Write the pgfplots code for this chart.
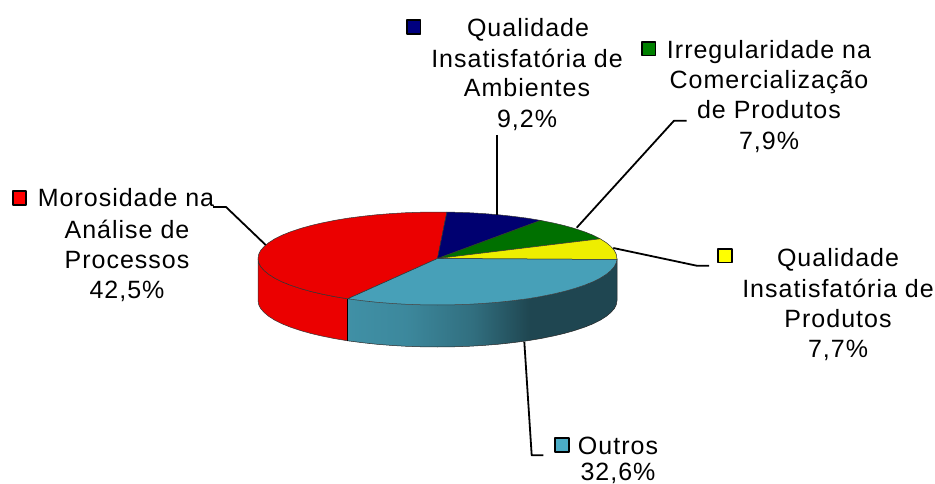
\documentclass[border=0pt]{standalone}
\usepackage{pgfplots}
\pgfplotsset{compat=1.18}
\usepackage{fontspec}
\setmainfont[LetterSpace=4]{Liberation Sans}
\definecolor{tRed}{HTML}{EB0000}
\definecolor{tNavy}{HTML}{000070}
\definecolor{tGreen}{HTML}{007000}
\definecolor{tYellow}{HTML}{EEEE00}
\definecolor{tTeal}{HTML}{47A0B8}
\definecolor{kRed}{HTML}{FF0000}
\definecolor{kNavy}{HTML}{000080}
\definecolor{kGreen}{HTML}{008000}
\definecolor{kYellow}{HTML}{FFFF00}
\definecolor{kTeal}{HTML}{4BACC6}
\pgfdeclarehorizontalshading{tealside}{100bp}{
 color(0bp)=(tTeal!90!black);
 color(25bp)=(tTeal!90!black);
 color(35.8bp)=(tTeal!85!black);
 color(48.3bp)=(tTeal!69!black);
 color(58.8bp)=(tTeal!44!black);
 color(100bp)=(tTeal!44!black)}
\newcommand{\lab}[3]{\node[anchor=base,inner sep=0pt,font=\fontsize{25pt}{25pt}\selectfont,text=black] at (axis cs:#1,#2) {#3};}
\begin{document}
\begin{tikzpicture}
\useasboundingbox (0,0) rectangle (935pt,484pt);
\begin{axis}[hide axis,scale only axis,width=935pt,height=484pt,at={(0,0)},anchor=south west,
  xmin=0,xmax=935,ymin=0,ymax=484,y dir=reverse,clip=false,
  every axis plot/.append style={line join=round}]
% side walls
\addplot[draw=black!80,line width=0.5pt,fill=tRed] coordinates {
(258,258.5)(258.7,262.6)(260.7,266.6)(264.1,270.5)(268.8,274.4)(274.8,278.2)(282,281.8)(290.5,285.2)(300,288.4)(310.6,291.4)(322.1,294.1)(334.5,296.6)(347.7,298.8)
(347.7,340.8)(334.5,338.6)(322.1,336.1)(310.6,333.4)(300,330.4)(290.5,327.2)(282,323.8)(274.8,320.2)(268.8,316.4)(264.1,312.5)(260.7,308.6)(258.7,304.6)(258,300.5)(258,258.5)};
\addplot[draw=none,shading=tealside] coordinates {
(347.7,298.8)(361.6,300.6)(376.1,302.2)(391,303.4)(406.3,304.3)(421.8,304.8)(437.5,305)(453.2,304.8)(468.7,304.3)(484,303.4)(498.9,302.2)(513.4,300.6)(527.3,298.8)(540.5,296.6)(552.9,294.1)(564.4,291.4)(575,288.4)(584.5,285.2)(593,281.8)(600.2,278.2)(606.2,274.4)(610.9,270.5)(614.3,266.6)(616.3,262.6)(617,258.5)
(617,300.5)(616.3,304.6)(614.3,308.6)(610.9,312.5)(606.2,316.4)(600.2,320.2)(593,323.8)(584.5,327.2)(575,330.4)(564.4,333.4)(552.9,336.1)(540.5,338.6)(527.3,340.8)(513.4,342.6)(498.9,344.2)(484,345.4)(468.7,346.3)(453.2,346.8)(437.5,347)(421.8,346.8)(406.3,346.3)(391,345.4)(376.1,344.2)(361.6,342.6)(347.7,340.8)(347.7,298.8)};
\addplot[draw=black!85,line width=0.5pt] coordinates {
(617,258.5)(617,300.5)(616.3,304.6)(614.3,308.6)(610.9,312.5)(606.2,316.4)(600.2,320.2)(593,323.8)(584.5,327.2)(575,330.4)(564.4,333.4)(552.9,336.1)(540.5,338.6)(527.3,340.8)(513.4,342.6)(498.9,344.2)(484,345.4)(468.7,346.3)(453.2,346.8)(437.5,347)(421.8,346.8)(406.3,346.3)(391,345.4)(376.1,344.2)(361.6,342.6)(347.7,340.8)};
\addplot[draw=black,line width=1.5pt] coordinates {(347.7,299)(347.7,341)};
% top surface
\addplot[draw=black!80,line width=0.5pt,fill=tRed] coordinates {
(437.5,258.5)(446.9,212.1)(437.5,212)(421.8,212.2)(406.3,212.7)(391,213.6)(376.1,214.8)(361.6,216.4)(347.7,218.2)(334.5,220.4)(322.1,222.9)(310.6,225.6)(300,228.6)(290.5,231.8)(282,235.2)(274.8,238.8)(268.8,242.6)(264.1,246.5)(260.7,250.4)(258.7,254.4)(258,258.5)(258.7,262.6)(260.7,266.6)(264.1,270.5)(268.8,274.4)(274.8,278.2)(282,281.8)(290.5,285.2)(300,288.4)(310.6,291.4)(322.1,294.1)(334.5,296.6)(347.7,298.8)(437.5,258.5)};
\addplot[draw=black!80,line width=0.5pt,fill=tNavy] coordinates {
(437.5,258.5)(540.5,220.4)(527.3,218.2)(513.4,216.4)(498.9,214.8)(484,213.6)(468.7,212.7)(453.2,212.2)(446.9,212.1)(437.5,258.5)};
\addplot[draw=black!80,line width=0.5pt,fill=tGreen] coordinates {
(437.5,258.5)(600.2,238.8)(593,235.2)(584.5,231.8)(575,228.6)(564.4,225.6)(552.9,222.9)(540.5,220.4)(437.5,258.5)};
\addplot[draw=black!80,line width=0.5pt,fill=tYellow] coordinates {
(437.5,258.5)(617,259.5)(616.3,254.4)(614.3,250.4)(610.9,246.5)(606.2,242.6)(600.2,238.8)(437.5,258.5)};
\addplot[draw=black!80,line width=0.5pt,fill=tTeal] coordinates {
(437.5,258.5)(347.7,298.8)(361.6,300.6)(376.1,302.2)(391,303.4)(406.3,304.3)(421.8,304.8)(437.5,305)(453.2,304.8)(468.7,304.3)(484,303.4)(498.9,302.2)(513.4,300.6)(527.3,298.8)(540.5,296.6)(552.9,294.1)(564.4,291.4)(575,288.4)(584.5,285.2)(593,281.8)(600.2,278.2)(606.2,274.4)(610.9,270.5)(614.3,266.6)(616.3,262.6)(617,259.5)(437.5,258.5)};
% leader lines
\addplot[black,line width=1.8pt] coordinates {(213,207)(226,207)(265.7,245)};
\addplot[black,line width=1.8pt] coordinates {(497.3,135)(497.3,215)};
\addplot[black,line width=1.8pt] coordinates {(686.7,120.7)(674,120.7)(576.7,227.7)};
\addplot[black,line width=1.8pt] coordinates {(613.3,248)(696.7,265.7)(709,265.7)};
\addplot[black,line width=1.8pt] coordinates {(524.3,341.7)(531.7,455.3)(543.3,455.3)};
% legend keys
\addplot[only marks,mark=square*,mark size=6.8pt,mark options={draw=black,line width=1.8pt,fill=kRed}] coordinates {(19.5,198)};
\addplot[only marks,mark=square*,mark size=6.8pt,mark options={draw=black,line width=1.8pt,fill=kNavy}] coordinates {(413.7,27)};
\addplot[only marks,mark=square*,mark size=6.8pt,mark options={draw=black,line width=1.8pt,fill=kGreen}] coordinates {(648.7,48.7)};
\addplot[only marks,mark=square*,mark size=6.8pt,mark options={draw=black,line width=1.8pt,fill=kYellow}] coordinates {(725,255.7)};
\addplot[only marks,mark=square*,mark size=6.8pt,mark options={draw=black,line width=1.8pt,fill=kTeal}] coordinates {(562,445)};
% labels
\lab{126}{207}{Morosidade na}
\lab{127}{238}{Análise de}
\lab{127}{268}{Processos}
\lab{127}{298}{42,5\%}
\lab{528}{37}{Qualidade}
\lab{527}{68}{Insatisfatória de}
\lab{527}{97}{Ambientes}
\lab{527}{128}{9,2\%}
\lab{769}{59}{Irregularidade na}
\lab{769}{89}{Comercialização}
\lab{769}{119}{de Produtos}
\lab{769}{150}{7,9\%}
\lab{838}{266}{Qualidade}
\lab{838}{297}{Insatisfatória de}
\lab{838}{327}{Produtos}
\lab{838}{357}{7,7\%}
\lab{618}{454}{Outros}
\lab{618}{480}{32,6\%}
\end{axis}
\end{tikzpicture}
\end{document}
